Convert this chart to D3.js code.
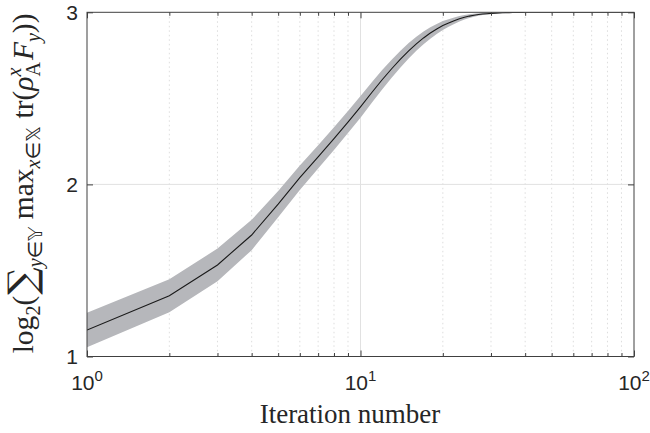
<!DOCTYPE html>
<html>
<head>
<meta charset="utf-8">
<script src="https://cdn.jsdelivr.net/npm/d3@7"></script>
<style>
  body { margin: 0; background: #fff; }
  svg { display: block; }
  .tick text { font-family: "Liberation Sans", Arial, sans-serif; }
</style>
</head>
<body>
<div id="chart"></div>
<script>
// mean curve and spread, iteration 1..100
var meanVals = [
  1.154,1.353,1.532,1.706,1.885,2.039,2.160,2.266,2.362,2.451,
  2.534,2.608,2.672,2.728,2.776,2.817,2.851,2.880,2.903,2.923,
  2.938,2.951,2.962,2.971,2.978,2.983,2.987,2.990,2.992,2.994,
  2.995,2.996,2.997,2.998,2.998,2.999,2.999,2.999,2.999,3.000,
  3,3,3,3,3,3,3,3,3,3,
  3,3,3,3,3,3,3,3,3,3,
  3,3,3,3,3,3,3,3,3,3,
  3,3,3,3,3,3,3,3,3,3,
  3,3,3,3,3,3,3,3,3,3,
  3,3,3,3,3,3,3,3,3,3
];
var spreadVals = [
  0.100,0.096,0.095,0.088,0.076,0.071,0.068,0.066,0.064,0.063,
  0.060,0.057,0.053,0.049,0.045,0.041,0.037,0.033,0.029,0.026,
  0.022,0.019,0.016,0.013,0.011,0.009,0.007,0.006,0.005,0.004,
  0.003,0.003,0.002,0.002,0.001,0.001,0.001,0.001,0.001,0,
  0,0,0,0,0,0,0,0,0,0,
  0,0,0,0,0,0,0,0,0,0,
  0,0,0,0,0,0,0,0,0,0,
  0,0,0,0,0,0,0,0,0,0,
  0,0,0,0,0,0,0,0,0,0,
  0,0,0,0,0,0,0,0,0,0
];
var xMajor = [1, 10, 100];
var xMajorExp = ["0", "1", "2"];
var xMinor = [2,3,4,5,6,7,8,9,20,30,40,50,60,70,80,90];
var yTicks = [1, 2, 3];

var width = 650, height = 433;
var margin = {left: 87, top: 12.3, right: 16, bottom: 76.5};
var w = width - margin.left - margin.right;
var h = height - margin.top - margin.bottom;

var data = meanVals.map(function(m, i){
  return {it: i + 1, mean: m, sd: spreadVals[i]};
});

var svg = d3.select("#chart").append("svg")
  .attr("width", width)
  .attr("height", height);

var g = svg.append("g")
  .attr("transform", "translate(" + margin.left + "," + margin.top + ")");

var xScale = d3.scaleLog().domain([1, 100]).range([0, w]);
var yScale = d3.scaleLinear().domain([1, 3]).range([h, 0]);

// grid
g.selectAll(".minorgrid").data(xMinor).enter().append("line")
  .attr("x1", function(d){ return xScale(d); })
  .attr("x2", function(d){ return xScale(d); })
  .attr("y1", 0).attr("y2", h)
  .attr("stroke", "#d4d4d4")
  .attr("stroke-width", 0.8)
  .attr("stroke-dasharray", "1.5,3");
g.append("line")
  .attr("x1", xScale(10)).attr("x2", xScale(10))
  .attr("y1", 0).attr("y2", h)
  .attr("stroke", "#e1e1e1");
g.append("line")
  .attr("x1", 0).attr("x2", w)
  .attr("y1", yScale(2)).attr("y2", yScale(2))
  .attr("stroke", "#e1e1e1");

// band + line
svg.append("clipPath").attr("id", "plotclip")
  .append("rect").attr("width", w).attr("height", h);

var area = d3.area()
  .x(function(d){ return xScale(d.it); })
  .y0(function(d){ return yScale(d.mean - d.sd); })
  .y1(function(d){ return yScale(d.mean + d.sd); });

var line = d3.line()
  .x(function(d){ return xScale(d.it); })
  .y(function(d){ return yScale(d.mean); });

var plot = g.append("g").attr("clip-path", "url(#plotclip)");
plot.append("path")
  .datum(data)
  .attr("fill", "#b6b7bb")
  .attr("d", area);
plot.append("path")
  .datum(data)
  .attr("fill", "none")
  .attr("stroke", "#1a1a1a")
  .attr("stroke-width", 1.1)
  .attr("d", line);

// axes
var axisColor = "#404040";
function styleAxis(sel){
  sel.selectAll("path, line").attr("stroke", axisColor);
  sel.selectAll(".domain").remove();
}

g.append("g").attr("transform", "translate(0," + h + ")")
  .call(d3.axisBottom(xScale).tickValues(xMajor).tickSize(-6).tickFormat(""))
  .call(styleAxis);
g.append("g").attr("transform", "translate(0," + h + ")")
  .call(d3.axisBottom(xScale).tickValues(xMinor).tickSize(-3.5).tickFormat(""))
  .call(styleAxis);
g.append("g")
  .call(d3.axisTop(xScale).tickValues(xMajor).tickSize(-6).tickFormat(""))
  .call(styleAxis);
g.append("g")
  .call(d3.axisTop(xScale).tickValues(xMinor).tickSize(-3.5).tickFormat(""))
  .call(styleAxis);

var yAxisG = g.append("g")
  .call(d3.axisLeft(yScale).tickValues(yTicks).tickSize(-6).tickPadding(9).tickFormat(d3.format("d")))
  .call(styleAxis);
yAxisG.selectAll("text")
  .attr("fill", "#262626")
  .style("font-size", "21px");
g.append("g").attr("transform", "translate(" + w + ",0)")
  .call(d3.axisRight(yScale).tickValues(yTicks).tickSize(-6).tickFormat(""))
  .call(styleAxis);

g.append("rect")
  .attr("width", w).attr("height", h)
  .attr("fill", "none")
  .attr("stroke", axisColor)
  .attr("stroke-width", 1);

// x tick labels 10^n
var xl = g.selectAll(".xlab").data(xMajor).enter().append("text")
  .attr("x", function(d){ return xScale(d); })
  .attr("y", h + 34)
  .attr("text-anchor", "middle")
  .attr("fill", "#262626")
  .style("font-family", "'Liberation Sans', Arial, sans-serif")
  .style("font-size", "21px");
xl.append("tspan").text("10");
xl.append("tspan")
  .attr("dy", -9)
  .style("font-size", "15px")
  .text(function(d, i){ return xMajorExp[i]; });

// x label
svg.append("text")
  .attr("x", 350)
  .attr("y", 423)
  .attr("text-anchor", "middle")
  .attr("fill", "#262626")
  .style("font-family", "'Liberation Serif', 'DejaVu Serif', serif")
  .style("font-size", "27px")
  .text("Iteration number");

// y label (math), sized so it spans the same length as the reference
var yl = svg.append("text")
  .attr("transform", "translate(33," + (margin.top + h / 2 - 1) + ") rotate(-90)")
  .attr("text-anchor", "middle")
  .attr("fill", "#262626")
  .style("font-family", "'Liberation Serif', 'DejaVu Serif', serif");

function buildLabel(s){
  yl.selectAll("*").remove();
  yl.style("font-size", s + "px");
  var sub = s * 0.68, sh = s * 0.22, sup = s * 0.4;
  function part(txt, opt){
    opt = opt || {};
    var t = yl.append("tspan").text(txt);
    if (opt.dy) t.attr("dy", opt.dy);
    if (opt.dx) t.attr("dx", opt.dx);
    if (opt.size) t.style("font-size", opt.size + "px");
    if (opt.italic) t.style("font-style", "italic");
    if (opt.font) t.style("font-family", opt.font);
    return t;
  }
  part("log");
  part("2", {dy: sh, size: sub});
  part("(", {dy: -sh});
  part("\u2211", {size: s * 1.3, font: "'DejaVu Serif', serif", dy: s * 0.08, dx: 1});
  part("y", {dy: sh, size: sub, italic: true});
  part("\u2208", {size: sub, font: "'DejaVu Sans', sans-serif"});
  part("\uD835\uDD50", {size: sub, font: "'DejaVu Sans', sans-serif"});
  part(" max", {dy: -sh - s * 0.08});
  part("x", {dy: sh, size: sub, italic: true});
  part("\u2208", {size: sub, font: "'DejaVu Sans', sans-serif"});
  part("\uD835\uDD4F", {size: sub, font: "'DejaVu Sans', sans-serif"});
  part(" tr(", {dy: -sh});
  part("\u03C1", {italic: true});
  part("x", {dy: -sup, size: sub, italic: true});
  part("A", {dy: sup + sh, dx: -sub * 0.45, size: sub});
  part("F", {dy: -sh, italic: true, dx: 2});
  part("y", {dy: sh, size: sub, italic: true});
  part("))", {dy: -sh});
}
var baseSize = 24;
buildLabel(baseSize);
var len = yl.node().getComputedTextLength();
buildLabel(baseSize * 346 / len);
</script>
</body>
</html>
